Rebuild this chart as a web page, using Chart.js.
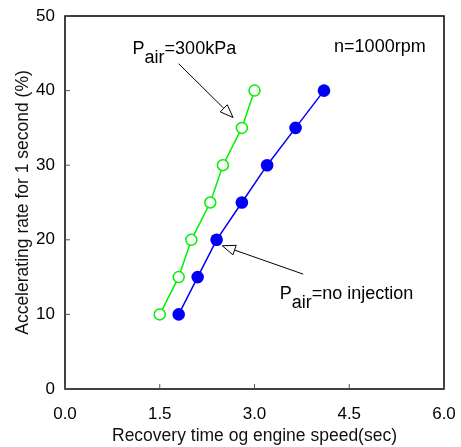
<!DOCTYPE html>
<html>
<head>
<meta charset="utf-8">
<script src="https://cdn.jsdelivr.net/npm/chart.js@4.4.1/dist/chart.umd.min.js"></script>
<style>
  body { margin: 0; background: #fff; }
  canvas { display: block; }
</style>
</head>
<body>
<canvas id="grafica" width="461" height="447"></canvas>
<script>
// datos
const aceleracion = [10, 15, 20, 25, 30, 35, 40];
const tiempoAire300 = [1.5, 1.8, 2.0, 2.3, 2.5, 2.8, 3.0];
const tiempoSinInyeccion = [1.8, 2.1, 2.4, 2.8, 3.2, 3.65, 4.1];
const ticksX = [0, 1.5, 3.0, 4.5, 6.0];
const ticksY = [0, 10, 20, 30, 40, 50];

Chart.defaults.font.family = "'Liberation Sans', Arial, sans-serif";
Chart.defaults.color = '#000';

const fuenteNota = "18px 'Liberation Sans', Arial, sans-serif";
const verde = '#00f000';
const azul = '#0000f5';

function puntos(xs) {
    return xs.map((x, i) => ({ x: x, y: aceleracion[i] }));
}

// flecha con punta de triangulo abierto
function flecha(ctx, x1, y1, x2, y2) {
    const ang = Math.atan2(y2 - y1, x2 - x1);
    const largo = 13, ancho = 5;
    const bx = x2 - largo * Math.cos(ang), by = y2 - largo * Math.sin(ang);
    ctx.beginPath();
    ctx.moveTo(x1, y1);
    ctx.lineTo(bx, by);
    ctx.stroke();
    ctx.beginPath();
    ctx.moveTo(x2, y2);
    ctx.lineTo(bx + ancho * Math.sin(ang), by - ancho * Math.cos(ang));
    ctx.lineTo(bx - ancho * Math.sin(ang), by + ancho * Math.cos(ang));
    ctx.closePath();
    ctx.fillStyle = '#fff';
    ctx.fill();
    ctx.stroke();
}

function textoPair(ctx, x, y, resto) {
    ctx.fillStyle = '#000';
    ctx.textBaseline = 'alphabetic';
    ctx.textAlign = 'left';
    ctx.font = fuenteNota;
    ctx.fillText('P', x, y);
    let w = ctx.measureText('P').width;
    ctx.fillText('air', x + w, y + 9);
    w += ctx.measureText('air').width;
    ctx.fillText(resto, x + w, y);
}

const marco = {
    id: 'marco',
    afterDraw(chart) {
        const { ctx, chartArea: a, scales } = chart;
        const sx = scales.x, sy = scales.y;
        ctx.save();
        ctx.strokeStyle = '#000';
        ctx.lineWidth = 1.5;
        ctx.strokeRect(a.left, a.top, a.right - a.left, a.bottom - a.top);
        ctx.lineWidth = 1;
        ctx.strokeStyle = '#555';
        sx.ticks.forEach(t => {
            const px = sx.getPixelForValue(t.value);
            ctx.beginPath(); ctx.moveTo(px, a.bottom); ctx.lineTo(px, a.bottom - 5); ctx.stroke();
        });
        sy.ticks.forEach(t => {
            const py = sy.getPixelForValue(t.value);
            ctx.beginPath(); ctx.moveTo(a.left, py); ctx.lineTo(a.left + 5, py); ctx.stroke();
        });

        // anotaciones
        ctx.strokeStyle = '#000';
        ctx.lineWidth = 1;
        textoPair(ctx, sx.getPixelForValue(1.07), sy.getPixelForValue(44.9), '=300kPa');
        textoPair(ctx, sx.getPixelForValue(3.40), sy.getPixelForValue(12.0), '=no injection');
        ctx.fillStyle = '#000';
        ctx.font = fuenteNota;
        ctx.fillText('n=1000rpm', sx.getPixelForValue(4.26), sy.getPixelForValue(45.2));
        flecha(ctx, sx.getPixelForValue(1.80), sy.getPixelForValue(43.6), sx.getPixelForValue(2.66), sy.getPixelForValue(36.4));
        flecha(ctx, sx.getPixelForValue(3.77), sy.getPixelForValue(15.4), sx.getPixelForValue(2.49), sy.getPixelForValue(19.2));
        ctx.restore();
    }
};

new Chart(document.getElementById('grafica'), {
    type: 'scatter',
    data: {
        datasets: [
            {
                label: 'Pair=300kPa',
                data: puntos(tiempoAire300),
                showLine: true,
                borderColor: verde,
                backgroundColor: '#fff',
                borderWidth: 1.5,
                pointRadius: 5.5,
                pointBorderWidth: 1.5,
                pointBorderColor: verde,
                pointBackgroundColor: '#fff'
            },
            {
                label: 'Pair=no injection',
                data: puntos(tiempoSinInyeccion),
                showLine: true,
                borderColor: azul,
                backgroundColor: azul,
                borderWidth: 1.5,
                pointRadius: 6.3,
                pointBorderWidth: 0,
                pointBackgroundColor: azul
            }
        ]
    },
    options: {
        responsive: false,
        animation: false,
        layout: { padding: { left: 0, right: 17, top: 16, bottom: 0 } },
        plugins: { legend: { display: false }, tooltip: { enabled: false } },
        scales: {
            x: {
                type: 'linear',
                min: 0, max: 6,
                afterBuildTicks: s => { s.ticks = ticksX.map(v => ({ value: v })); },
                afterFit: s => { s.height = 58; s.paddingLeft = 0; s.paddingRight = 0; },
                ticks: {
                    padding: 15,
                    font: { size: 17 },
                    color: '#000',
                    callback: v => v.toFixed(1)
                },
                grid: { display: false, drawTicks: false },
                border: { display: false },
                title: {
                    display: true,
                    text: 'Recovery time og engine speed(sec)',
                    font: { size: 17.5 },
                    color: '#111',
                    padding: { top: 0, bottom: 0 }
                }
            },
            y: {
                min: 0, max: 50,
                afterBuildTicks: s => { s.ticks = ticksY.map(v => ({ value: v })); },
                afterFit: s => { s.width = 65; s.paddingTop = 0; s.paddingBottom = 0; },
                ticks: {
                    padding: 10,
                    font: { size: 17 },
                    color: '#000'
                },
                grid: { display: false, drawTicks: false },
                border: { display: false },
                title: {
                    display: true,
                    text: 'Accelerating rate for 1 second (%)',
                    font: { size: 17.5 },
                    color: '#111',
                    padding: { top: 13, bottom: 0 }
                }
            }
        }
    },
    plugins: [marco]
});
</script>
</body>
</html>
